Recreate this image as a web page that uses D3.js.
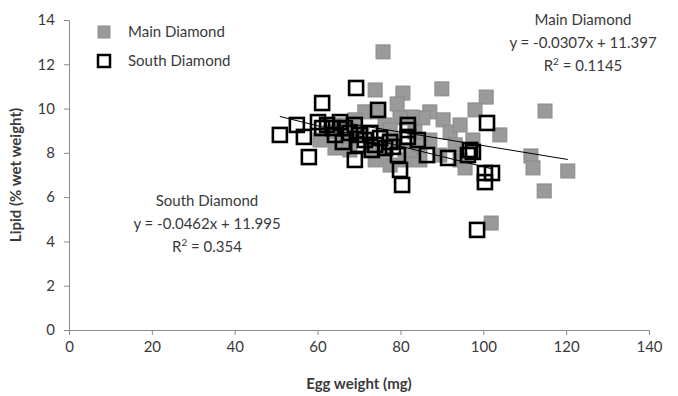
<!DOCTYPE html>
<html>
<head>
<meta charset="utf-8">
<script src="https://cdn.jsdelivr.net/npm/d3@7"></script>
<style>
  html, body { margin: 0; padding: 0; background: #fff; }
  svg text { font-family: Lato, "Open Sans", sans-serif; fill: #3a3a3a; }
</style>
</head>
<body>
<svg id="chart" width="678" height="396"></svg>
<script>
// Egg weight (mg) vs lipid (% wet weight), two sampling sites
const mainWeight = [75.8, 73.9, 80.6, 90.0, 100.7, 79.2, 98.0, 87.1, 85.4, 82.8, 90.3, 104.0, 114.9, 92.0, 97.5, 111.5, 112.0, 120.4, 114.7, 101.9,
  71.4, 74.6, 69.0, 65.4, 63.0, 60.6, 66.6, 70.7, 76.3, 78.7, 87.1, 94.4, 89.5, 84.7, 81.1, 76.3, 72.7, 67.8, 64.2, 82.3,
  84.7, 77.5, 73.9, 93.2, 95.6, 83.5, 79.9, 94.4, 67.8, 77.5];
const mainLipid = [12.56, 10.84, 10.70, 10.89, 10.52, 10.21, 9.94, 9.85, 9.58, 9.62, 9.49, 8.81, 9.89, 8.94, 8.58, 7.86, 7.32, 7.18, 6.28, 4.83,
  9.85, 9.85, 9.49, 9.26, 8.94, 8.58, 8.58, 8.81, 9.26, 8.58, 8.58, 7.68, 7.90, 7.68, 7.68, 8.13, 8.13, 8.13, 8.22, 8.13,
  8.36, 7.45, 7.68, 8.36, 7.32, 8.94, 9.58, 9.26, 9.03, 9.03];

const southWeight = [50.9, 55.0, 56.7, 57.9, 61.1, 60.1, 69.3, 69.0, 74.6, 81.8, 81.8, 81.8, 84.2, 77.5, 78.2, 86.4, 91.5, 96.8, 96.3, 100.9,
  97.5, 100.4, 100.4, 102.1, 98.5, 79.9, 80.4, 79.4, 62.3, 63.7, 65.4, 66.6, 67.8, 69.0, 70.2, 71.4, 72.7, 73.9, 75.1, 76.3,
  64.2, 61.1, 69.8, 73.1, 66.1];
const southLipid = [8.81, 9.26, 8.72, 7.81, 10.25, 9.39, 10.93, 7.68, 9.94, 9.26, 9.03, 8.72, 8.58, 8.49, 8.27, 7.90, 7.77, 8.13, 7.90, 9.35,
  8.04, 7.09, 6.68, 7.09, 4.52, 7.23, 6.55, 7.90, 9.26, 9.12, 9.39, 9.12, 8.90, 9.26, 8.81, 8.58, 8.90, 8.36, 8.67, 8.22,
  8.81, 9.12, 8.36, 8.13, 8.49];

// Linear fits as reported on the chart
const mainFit = { slope: -0.0307, intercept: 11.397, r2: "0.1145" };
const southFit = { slope: -0.0462, intercept: 11.995, r2: "0.354" };

const seriesNames = ["Main Diamond", "South Diamond"];
const xTicks = [0, 20, 40, 60, 80, 100, 120, 140];
const yTicks = [0, 2, 4, 6, 8, 10, 12, 14];

const svg = d3.select("#chart");
const plot = { left: 69, right: 649, top: 20, bottom: 330 };

const x = d3.scaleLinear().domain([0, 140]).range([plot.left, plot.right]);
const y = d3.scaleLinear().domain([0, 14]).range([plot.bottom, plot.top]);

const axisColor = "#8c8c8c";

// X axis
const gx = svg.append("g")
  .attr("transform", `translate(0,${plot.bottom})`)
  .call(d3.axisBottom(x).tickValues(xTicks).tickSize(5).tickPadding(6).tickFormat(d3.format("d")));
gx.select(".domain").attr("stroke", axisColor);
gx.selectAll(".tick line").attr("stroke", axisColor);
gx.selectAll(".tick text").attr("font-size", 15).attr("fill", "#3a3a3a")
  .style("font-family", "Lato, 'Open Sans', sans-serif");

// Y axis
const gy = svg.append("g")
  .attr("transform", `translate(${plot.left},0)`)
  .call(d3.axisLeft(y).tickValues(yTicks).tickSize(5).tickPadding(9).tickFormat(d3.format("d")));
gy.select(".domain").attr("stroke", axisColor);
gy.selectAll(".tick line").attr("stroke", axisColor);
gy.selectAll(".tick text").attr("font-size", 15).attr("fill", "#3a3a3a")
  .style("font-family", "Lato, 'Open Sans', sans-serif");

// Axis titles
svg.append("text")
  .attr("x", (plot.left + plot.right) / 2).attr("y", 389)
  .attr("text-anchor", "middle").attr("font-size", 15).attr("font-weight", "bold")
  .text("Egg weight (mg)");
svg.append("text")
  .attr("transform", `translate(21,${(plot.top + plot.bottom) / 2}) rotate(-90)`)
  .attr("text-anchor", "middle").attr("font-size", 15).attr("font-weight", "bold")
  .text("Lipid (% wet weight)");

const size = 14;

// Main Diamond: filled grey squares
const mainData = mainWeight.map((w, i) => ({ w, l: mainLipid[i] }));
svg.append("g").selectAll("rect").data(mainData).join("rect")
  .attr("x", d => x(d.w) - size / 2).attr("y", d => y(d.l) - size / 2)
  .attr("width", size).attr("height", size)
  .attr("fill", "#9a9a9a").attr("stroke", "#8a8a8a").attr("stroke-width", 1);

// South Diamond: open black squares
const southData = southWeight.map((w, i) => ({ w, l: southLipid[i] }));
svg.append("g").selectAll("rect").data(southData).join("rect")
  .attr("x", d => x(d.w) - size / 2).attr("y", d => y(d.l) - size / 2)
  .attr("width", size).attr("height", size)
  .attr("fill", "none").attr("stroke", "#000").attr("stroke-width", 2.6);

// Trend lines over each series' weight range
function trend(fit, xs) {
  const [lo, hi] = d3.extent(xs);
  svg.append("line")
    .attr("x1", x(lo)).attr("y1", y(fit.intercept + fit.slope * lo))
    .attr("x2", x(hi)).attr("y2", y(fit.intercept + fit.slope * hi))
    .attr("stroke", "#000").attr("stroke-width", 1);
}
trend(mainFit, mainWeight);
trend(southFit, southWeight);

// Equation labels
function eqLabel(cx, cy, name, fit) {
  const g = svg.append("g").attr("font-size", 15).attr("text-anchor", "middle");
  g.append("text").attr("x", cx).attr("y", cy).text(name);
  const sign = fit.intercept >= 0 ? "+" : "-";
  g.append("text").attr("x", cx).attr("y", cy + 23)
    .text(`y = ${fit.slope}x ${sign} ${Math.abs(fit.intercept)}`);
  const r = g.append("text").attr("x", cx).attr("y", cy + 46);
  r.append("tspan").text("R");
  r.append("tspan").attr("font-size", 10).attr("dy", -6).text("2");
  r.append("tspan").attr("dy", 6).text(` = ${fit.r2}`);
}
eqLabel(583, 25, seriesNames[0], mainFit);
eqLabel(207, 206, seriesNames[1], southFit);

// Legend
const legend = svg.append("g");
legend.append("rect").attr("x", 98).attr("y", 26).attr("width", 12).attr("height", 12)
  .attr("fill", "#9a9a9a").attr("stroke", "#8a8a8a");
legend.append("text").attr("x", 128).attr("y", 37).attr("font-size", 15).text(seriesNames[0]);
legend.append("rect").attr("x", 98).attr("y", 55).attr("width", 12).attr("height", 12)
  .attr("fill", "none").attr("stroke", "#000").attr("stroke-width", 2.5);
legend.append("text").attr("x", 128).attr("y", 66).attr("font-size", 15).text(seriesNames[1]);
</script>
</body>
</html>
